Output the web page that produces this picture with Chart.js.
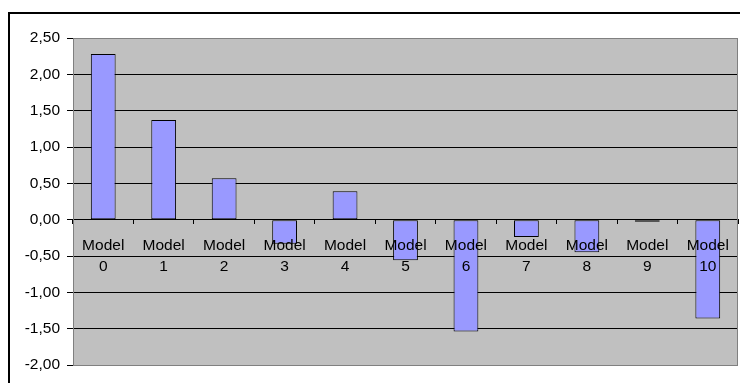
<!DOCTYPE html>
<html lang="en">
<head>
    <meta charset="UTF-8">
    <title>Model deviations</title>
    <script src="https://cdn.jsdelivr.net/npm/chart.js@4.4.1/dist/chart.umd.min.js"></script>
    <style>
        body { margin: 0; background: #fff; }
        #wrap { width: 740px; height: 383px; }
    </style>
</head>
<body>
    <div id="wrap"><canvas id="chart"></canvas></div>
    <script>
        const models = ['0', '1', '2', '3', '4', '5', '6', '7', '8', '9', '10'];
        const values = [2.28, 1.37, 0.57, -0.33, 0.39, -0.56, -1.54, -0.24, -0.45, -0.03, -1.36];
        const yTicks = [-2, -1.5, -1, -0.5, 0, 0.5, 1, 1.5, 2, 2.5];

        const xlabels = models.map(m => ['Model', m]);

        // grey plot area with its frame, plus the outer chart border
        const plotBg = {
            id: 'plotBg',
            beforeDraw(chart) {
                const { ctx, chartArea: a } = chart;
                ctx.save();
                ctx.strokeStyle = '#000';
                ctx.lineWidth = 2;
                ctx.strokeRect(9, 13, 800, 400);
                ctx.fillStyle = '#c0c0c0';
                ctx.fillRect(a.left, a.top, a.right - a.left, a.bottom - a.top);
                ctx.restore();
            },
            afterDraw(chart) {
                const { ctx, chartArea: a } = chart;
                ctx.save();
                ctx.strokeStyle = '#808080';
                ctx.lineWidth = 1;
                ctx.strokeRect(a.left + 0.5, a.top + 0.5, a.right - a.left - 1, a.bottom - a.top);
                ctx.restore();
            }
        };

        const font = { family: "'Liberation Sans', Arial, sans-serif", size: 15.5 };

        new Chart(document.getElementById('chart'), {
            type: 'bar',
            data: {
                labels: xlabels,
                datasets: [{
                    data: values,
                    backgroundColor: '#9999ff',
                    borderColor: '#000',
                    borderWidth: 1,
                    borderSkipped: false,
                    barPercentage: 0.41,
                    categoryPercentage: 1
                }]
            },
            options: {
                responsive: true,
                maintainAspectRatio: false,
                animation: false,
                layout: { padding: { left: 0, top: 38, right: 2, bottom: 18 } },
                plugins: { legend: { display: false }, tooltip: { enabled: false } },
                scales: {
                    x: {
                        position: { y: 0 },
                        offset: true,
                        grid: {
                            offset: true,
                            drawOnChartArea: false,
                            tickLength: 4,
                            tickColor: '#000'
                        },
                        border: { color: '#000' },
                        ticks: {
                            z: 1,
                            color: '#000',
                            font: { ...font, lineHeight: 1.4 },
                            padding: 11,
                            maxRotation: 0,
                            autoSkip: false
                        }
                    },
                    y: {
                        min: -2,
                        max: 2.5,
                        afterFit(scale) { scale.width = 73; },
                        afterBuildTicks(scale) { scale.ticks = yTicks.map(v => ({ value: v })); },
                        grid: {
                            color: '#000',
                            tickColor: '#000',
                            tickLength: 6
                        },
                        border: { color: '#808080' },
                        ticks: {
                            color: '#000',
                            font: font,
                            padding: 7,
                            callback: v => v.toFixed(2).replace('.', ',')
                        }
                    }
                }
            },
            plugins: [plotBg]
        });
    </script>
</body>
</html>
